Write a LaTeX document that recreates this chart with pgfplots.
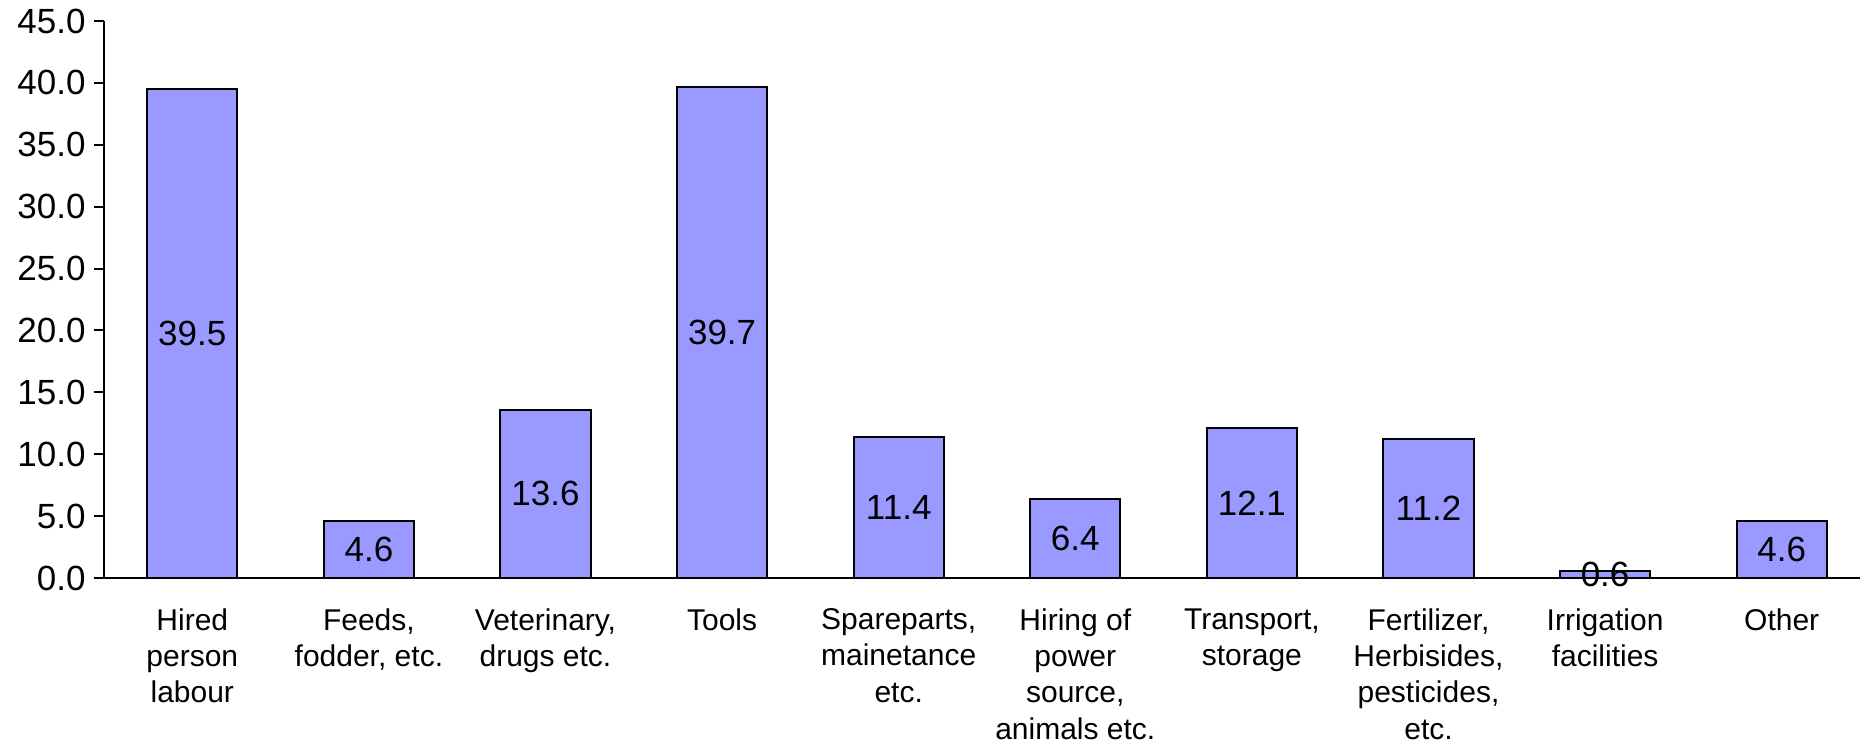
\documentclass[border=0pt]{standalone}
\usepackage{pgfplots}
\pgfplotsset{compat=1.18}
\usepackage{fontspec}
\setmainfont{Liberation Sans}
\definecolor{barblue}{HTML}{9999FF}
\begin{document}
\fontsize{15}{18.2}\selectfont
\begin{tikzpicture}
\path[use as bounding box] (0,0) rectangle (930pt,372.5pt);
\begin{axis}[
  at={(52pt,83.5pt)}, anchor=south west,
  scale only axis, width=883pt, height=278.5pt,
  xmin=-0.5, xmax=9.5, ymin=0, ymax=45,
  axis x line*=bottom, axis y line*=left,
  axis line style={line width=1pt},
  ytick={0,5,...,45},
  yticklabel style={font=\fontsize{17.5}{20}\selectfont, xshift=1pt,
    /pgf/number format/fixed, /pgf/number format/fixed zerofill, /pgf/number format/precision=1, /pgf/number format/assume math mode=true},
  tick align=outside, major tick length=5pt,
  tick style={line width=1pt, black},
  xtick={0,...,9},
  x tick style={draw=none},
  extra x ticks={-0.5,0.5,...,8.5},
  extra x tick labels={},
  extra x tick style={tick style={draw=black, line width=1pt}, major tick length=5pt},
  xticklabels={{Hired\\person\\labour},{Feeds,\\fodder, etc.},{Veterinary,\\drugs etc.},{Tools},{Spareparts,\\mainetance\\etc.},{Hiring of\\power\\source,\\animals etc.},{Transport,\\storage},{Fertilizer,\\Herbisides,\\pesticides,\\etc.},{Irrigation\\facilities},{Other}},
  xticklabel style={align=center, font=\fontsize{15}{18.2}\selectfont, anchor=north, yshift=-9pt, inner sep=1pt},
  ybar, bar width=0.51,
  nodes near coords,
  visualization depends on={rawy \as \rawy},
  every node near coord/.append style={anchor=center, font=\fontsize{17.5}{20}\selectfont, shift={(axis direction cs:0,-\rawy/2)},
    /pgf/number format/fixed, /pgf/number format/fixed zerofill, /pgf/number format/precision=1, /pgf/number format/assume math mode=true},
  clip=false,
]
\addplot[fill=barblue, draw=black, line width=1pt] coordinates {
(0,39.5) (1,4.6) (2,13.6) (3,39.7) (4,11.4) (5,6.4) (6,12.1) (7,11.2) (8,0.6) (9,4.6)};
\end{axis}
\end{tikzpicture}
\end{document}
